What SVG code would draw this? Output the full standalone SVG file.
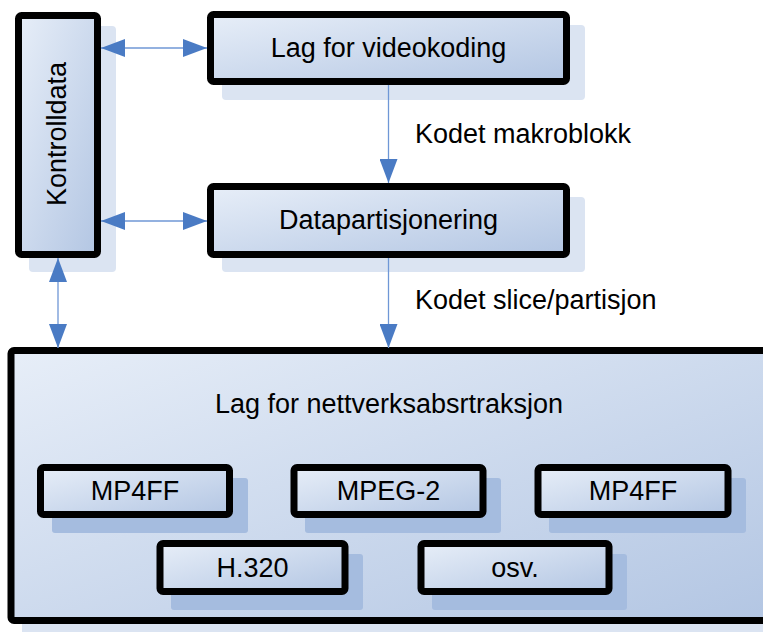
<svg xmlns="http://www.w3.org/2000/svg" width="763" height="632" viewBox="0 0 763 632">
<style>
.box{stroke:#000;stroke-width:7;fill:url(#g)}
.sbox{stroke:#000;stroke-width:7;fill:url(#g)}
.sh{fill:#dbe4f2}
.sh2{fill:#a5bcdf}
text{font-family:"Liberation Sans",Arial,sans-serif;font-size:27px;fill:#000;text-anchor:middle}
.lbl{text-anchor:start}
.con{stroke:#6f97d6;stroke-width:1.3;fill:none}
</style>
<defs>
<linearGradient id="g" x1="0" y1="0" x2="1" y2="1">
<stop offset="0" stop-color="#e7eef8"/>
<stop offset="1" stop-color="#b3c6e3"/>
</linearGradient>
<marker id="ah" viewBox="0 0 24 18" refX="24" refY="9" markerWidth="24" markerHeight="18" markerUnits="userSpaceOnUse" orient="auto-start-reverse">
<path d="M0,0 L24,9 L0,18 Z" fill="#4a7bc4"/>
</marker>
</defs>
<g id="kontrolldata">
<rect class="sh" x="29" y="26" width="87" height="246" rx="4"/>
<rect class="box" x="18.5" y="15.5" width="79" height="239" rx="3"/>
<text transform="translate(66,134) rotate(-90)">Kontrolldata</text>
</g>
<g id="videokoding">
<rect class="sh" x="222" y="25" width="363" height="75" rx="4"/>
<rect class="box" x="210.5" y="14.5" width="356" height="67" rx="3"/>
<text x="388.5" y="57">Lag for videokoding</text>
</g>
<g id="datapartisjonering">
<rect class="sh" x="222" y="197" width="363" height="75" rx="4"/>
<rect class="box" x="210.5" y="186.5" width="356" height="68" rx="3"/>
<text x="388.5" y="229">Datapartisjonering</text>
</g>
<g id="nettverk">
<rect class="sh" x="22" y="362" width="760" height="275" rx="4"/>
<rect class="box" x="11" y="350.5" width="756" height="270" rx="3"/>
<text x="389" y="413">Lag for nettverksabsrtraksjon</text>
</g>
<g id="mp4ff1">
<rect class="sh2" x="52" y="478" width="196" height="55" rx="3"/>
<rect class="sbox" x="40.5" y="467.5" width="189" height="47" rx="3"/>
<text x="135" y="500">MP4FF</text>
</g>
<g id="mpeg2">
<rect class="sh2" x="305" y="478" width="196" height="55" rx="3"/>
<rect class="sbox" x="294" y="467.5" width="189" height="47" rx="3"/>
<text x="388.5" y="500">MPEG-2</text>
</g>
<g id="mp4ff2">
<rect class="sh2" x="549" y="478" width="197" height="55" rx="3"/>
<rect class="sbox" x="538" y="467.5" width="190" height="47" rx="3"/>
<text x="633" y="500">MP4FF</text>
</g>
<g id="h320">
<rect class="sh2" x="171" y="554" width="192" height="56" rx="3"/>
<rect class="sbox" x="160" y="543.5" width="185" height="48" rx="3"/>
<text x="252.5" y="577">H.320</text>
</g>
<g id="osv">
<rect class="sh2" x="432" y="554" width="195" height="56" rx="3"/>
<rect class="sbox" x="421" y="543.5" width="188" height="48" rx="3"/>
<text x="515" y="577">osv.</text>
</g>
<g id="connectors">
<line class="con" x1="101" y1="48" x2="207" y2="48" marker-start="url(#ah)" marker-end="url(#ah)"/>
<line class="con" x1="101" y1="221" x2="207" y2="221" marker-start="url(#ah)" marker-end="url(#ah)"/>
<line class="con" x1="58" y1="258" x2="58" y2="348" marker-start="url(#ah)" marker-end="url(#ah)"/>
<line class="con" x1="388.5" y1="85" x2="388.5" y2="183" marker-end="url(#ah)"/>
<line class="con" x1="388.5" y1="258" x2="388.5" y2="348" marker-end="url(#ah)"/>
<text class="lbl" x="415" y="143">Kodet makroblokk</text>
<text class="lbl" x="415" y="309">Kodet slice/partisjon</text>
</g>
</svg>
